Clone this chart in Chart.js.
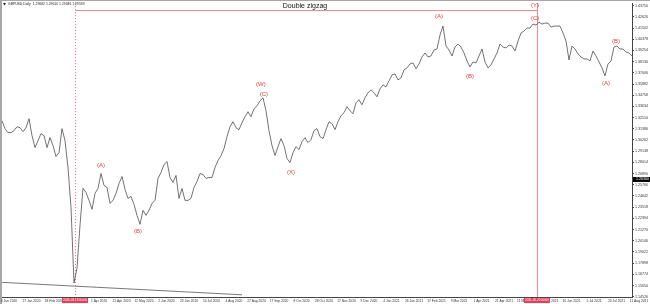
<!DOCTYPE html>
<html>
<head>
<meta charset="utf-8">
<script src="https://cdn.jsdelivr.net/npm/chart.js"></script>
<style>
html, body { margin: 0; padding: 0; background: #fff; }
#c { display: block; }
</style>
</head>
<body>
<canvas id="c" width="650" height="304"></canvas>
<script>
// GBPUSD daily closes, one reading every 2 trading days, Jan 2020 -> Aug 2021
const closes = [
  1.3220, 1.3140, 1.3100, 1.3100, 1.3120, 1.3160, 1.3150, 1.3110, 1.3150, 1.3240,
  1.3070, 1.2950, 1.3020, 1.3090, 1.3070, 1.2950, 1.3050, 1.2970, 1.2860, 1.2900,
  1.3140, 1.3020, 1.2750, 1.2350, 1.1590, 1.1740, 1.2170, 1.2540, 1.2500, 1.2420,
  1.2330, 1.2490, 1.2540, 1.2690, 1.2570, 1.2550, 1.2390, 1.2420, 1.2490, 1.2590,
  1.2660, 1.2530, 1.2440, 1.2460, 1.2380, 1.2270, 1.2180, 1.2320, 1.2270, 1.2320,
  1.2390, 1.2420, 1.2640, 1.2700, 1.2780, 1.2810, 1.2650, 1.2600, 1.2670, 1.2440,
  1.2540, 1.2420, 1.2420, 1.2440, 1.2550, 1.2610, 1.2690, 1.2680, 1.2640, 1.2650,
  1.2650, 1.2750, 1.2820, 1.2870,
  1.2940, 1.3060, 1.3160, 1.3210, 1.3150, 1.3130, 1.3200, 1.3260, 1.3310, 1.3260,
  1.3340, 1.3370, 1.3420, 1.3450, 1.3320, 1.3120, 1.2970, 1.2870, 1.2960, 1.3040,
  1.2970, 1.2840, 1.2800,
  1.2900, 1.2960, 1.2930, 1.3010, 1.3050, 1.3000, 1.3030, 1.3120, 1.3140, 1.3060,
  1.3040, 1.3130, 1.3210, 1.3190, 1.3130, 1.3210, 1.3270, 1.3300, 1.3360, 1.3320,
  1.3290, 1.3400, 1.3430, 1.3380, 1.3450, 1.3500, 1.3530, 1.3500, 1.3460, 1.3540,
  1.3580, 1.3560, 1.3620, 1.3680, 1.3690, 1.3630, 1.3650, 1.3730, 1.3750, 1.3790,
  1.3800, 1.3740, 1.3790, 1.3860, 1.3900, 1.3860,
  1.3870, 1.3930, 1.3940, 1.4080, 1.4170, 1.3970, 1.3930, 1.3870, 1.3960, 1.3990,
  1.3960, 1.3900, 1.3820, 1.3760, 1.3810, 1.3800, 1.3870, 1.3940, 1.3810, 1.3750,
  1.3780, 1.3840, 1.3900, 1.3990, 1.3960, 1.3950, 1.3980, 1.3970, 1.3920, 1.4020,
  1.4100, 1.4120, 1.4150, 1.4150, 1.4190, 1.4180, 1.4210, 1.4190, 1.4200, 1.4200,
  1.4160, 1.4170, 1.4170, 1.4170, 1.4100, 1.4020, 1.3830, 1.3970, 1.3940, 1.3890,
  1.3860, 1.3840, 1.3840, 1.3820, 1.3920, 1.3870, 1.3810, 1.3750, 1.3670, 1.3790,
  1.3820, 1.3960, 1.3970, 1.3940, 1.3940, 1.3910, 1.3900, 1.3870
];

// price scale labels on the right
const yTicks = [
  1.43750, 1.42626, 1.41502, 1.40378, 1.39254, 1.38130, 1.37006, 1.35882, 1.34758,
  1.33634, 1.32510, 1.31386, 1.30262, 1.29138, 1.28014, 1.26890, 1.25766, 1.24642,
  1.23518, 1.22394, 1.21270, 1.20146, 1.19022, 1.17898, 1.16774, 1.15650, 1.14526
];
const yMin = 1.1450, yMax = 1.4400;

// time scale labels, one every 7.5 readings (15 trading days)
const dateLabels = [
  '3 Jan 2020', '27 Jan 2020', '18 Feb 2020', '11 Mar 2020', '1 Apr 2020', '21 Apr 2020',
  '12 May 2020', '2 Jun 2020', '23 Jun 2020', '14 Jul 2020', '4 Aug 2020', '27 Aug 2020',
  '17 Sep 2020', '8 Oct 2020', '28 Oct 2020', '17 Nov 2020', '9 Dec 2020', '4 Jan 2021',
  '26 Jan 2021', '17 Feb 2021', '9 Mar 2021', '1 Apr 2021', '21 Apr 2021', '11 May 2021',
  '31 May 2021', '16 Jun 2021', '5 Jul 2021', '23 Jul 2021', '11 Aug 2021'
];
const dateStart = 2.33, dateStep = 7.5;

// lower trend line (reading index, price)
const trendAt = [0, 80];
const trendPrice = [1.1597, 1.1472];

// wave count
const waveText  = ['(A)', '(B)', '(W)', '(C)', '(X)', '(A)', '(B)', '(Y)', '(C)', '(B)', '(A)'];
const waveAt    = [33, 45.3, 86.3, 87.3, 96.3, 145.7, 156, 177.7, 177.7, 204.7, 201.3];
const wavePrice = [1.2770, 1.2110, 1.3580, 1.3480, 1.2700, 1.4270, 1.3670, 1.4375, 1.4250, 1.4020, 1.3595];

// vertical time markers and the box top joining them
const markerAt = [24.33, 178.33];
const markerDates = ['2020.03.19 00:00', '2021.05.20 00:00'];
const boxTop = 1.4330;

const bidPrice = 1.26300;
const header = 'GBPUSD,Daily  1.29682 1.29610 1.29346 1.29593';
const title = 'Double zigzag';
const titleAt = 101, titlePrice = 1.4370;

const FONT = "'Liberation Sans', Arial, sans-serif";

const overlay = {
  id: 'overlay',
  beforeDatasetsDraw(chart) {
    const { ctx, chartArea: a, scales: { x, y } } = chart;
    ctx.save();
    const yb = Math.round(y.getPixelForValue(boxTop)) + 0.5;
    const x1 = Math.round(x.getPixelForValue(markerAt[0])) + 0.5;
    const x2 = Math.round(x.getPixelForValue(markerAt[1])) + 0.5;
    ctx.lineWidth = 1;
    ctx.strokeStyle = 'rgba(238,120,120,0.85)';
    ctx.beginPath(); ctx.moveTo(x1, yb); ctx.lineTo(x2, yb); ctx.stroke();
    ctx.beginPath(); ctx.moveTo(x2, a.top); ctx.lineTo(x2, a.bottom); ctx.stroke();
    ctx.strokeStyle = 'rgba(225,70,70,0.8)';
    ctx.setLineDash([1, 2]);
    ctx.beginPath(); ctx.moveTo(x1, a.top); ctx.lineTo(x1, a.bottom); ctx.stroke();
    ctx.restore();
  },
  afterDraw(chart) {
    const { ctx, chartArea: a, scales: { x, y } } = chart;
    ctx.save();

    // frame strips
    ctx.fillStyle = '#a8a8a8';
    ctx.fillRect(0, 0, chart.width, 1);
    ctx.fillRect(0, 0, 2, chart.height);

    // header
    ctx.fillStyle = '#222';
    ctx.beginPath(); ctx.moveTo(3, 3); ctx.lineTo(6, 3); ctx.lineTo(4.5, 5.5); ctx.fill();
    ctx.font = '3.4px ' + FONT;
    ctx.textAlign = 'left'; ctx.textBaseline = 'middle';
    ctx.fillText(header, 8, 4.5);

    // title
    ctx.font = '7px ' + FONT;
    ctx.textAlign = 'center';
    ctx.fillStyle = '#111';
    ctx.fillText(title, x.getPixelForValue(titleAt), y.getPixelForValue(titlePrice));

    // wave labels
    ctx.font = '6px ' + FONT;
    ctx.fillStyle = '#e03c3c';
    waveText.forEach((t, i) => {
      ctx.fillText(t, x.getPixelForValue(waveAt[i]), y.getPixelForValue(wavePrice[i]));
    });

    // time scale labels
    ctx.font = '3.3px ' + FONT;
    ctx.fillStyle = '#333';
    dateLabels.forEach((t, k) => {
      ctx.fillText(t, x.getPixelForValue(dateStart + k * dateStep), a.bottom + 3.8);
    });

    // marker date boxes
    ctx.font = '3.1px ' + FONT;
    markerAt.forEach((m, i) => {
      const px = x.getPixelForValue(m);
      ctx.fillStyle = '#e4405a';
      ctx.fillRect(px - 13, a.bottom + 1, 26, 5);
      ctx.fillStyle = '#fff';
      ctx.fillText(markerDates[i], px, a.bottom + 3.6);
    });

    // bid price box
    const by = y.getPixelForValue(bidPrice);
    ctx.fillStyle = '#000';
    ctx.fillRect(a.right + 1, by - 2.5, chart.width - a.right - 1, 5);
    ctx.fillStyle = '#fff';
    ctx.font = '3.6px ' + FONT;
    ctx.textAlign = 'left';
    ctx.fillText(bidPrice.toFixed(5), a.right + 4, by);
    ctx.restore();
  }
};

new Chart(document.getElementById('c'), {
  type: 'line',
  data: {
    datasets: [{
      data: closes.map((v, i) => ({ x: i, y: v })),
      borderColor: '#444',
      borderWidth: 0.75,
      pointRadius: 0,
      tension: 0
    }, {
      data: trendAt.map((t, i) => ({ x: t, y: trendPrice[i] })),
      borderColor: '#555',
      borderWidth: 0.8,
      pointRadius: 0
    }]
  },
  options: {
    responsive: false,
    animation: false,
    devicePixelRatio: 1,
    layout: { padding: { left: 2, top: 2, right: 0, bottom: 0 } },
    plugins: { legend: { display: false }, tooltip: { enabled: false } },
    scales: {
      x: {
        type: 'linear', min: 0, max: closes.length - 1,
        grid: { display: false },
        ticks: { display: false },
        border: { display: true, color: '#444', width: 1 },
        afterFit(s) { s.height = 7; }
      },
      y: {
        position: 'right', min: yMin, max: yMax,
        grid: { display: true, drawOnChartArea: false, drawTicks: true, tickLength: 2, color: '#444' },
        border: { display: true, color: '#444', width: 1 },
        afterBuildTicks(s) { s.ticks = yTicks.map(v => ({ value: v })); },
        ticks: {
          autoSkip: false, padding: 1, color: '#333',
          font: { family: FONT, size: 3.6 },
          callback: v => v.toFixed(5)
        },
        afterFit(s) { s.width = 18; }
      }
    }
  },
  plugins: [overlay]
});
</script>
</body>
</html>
